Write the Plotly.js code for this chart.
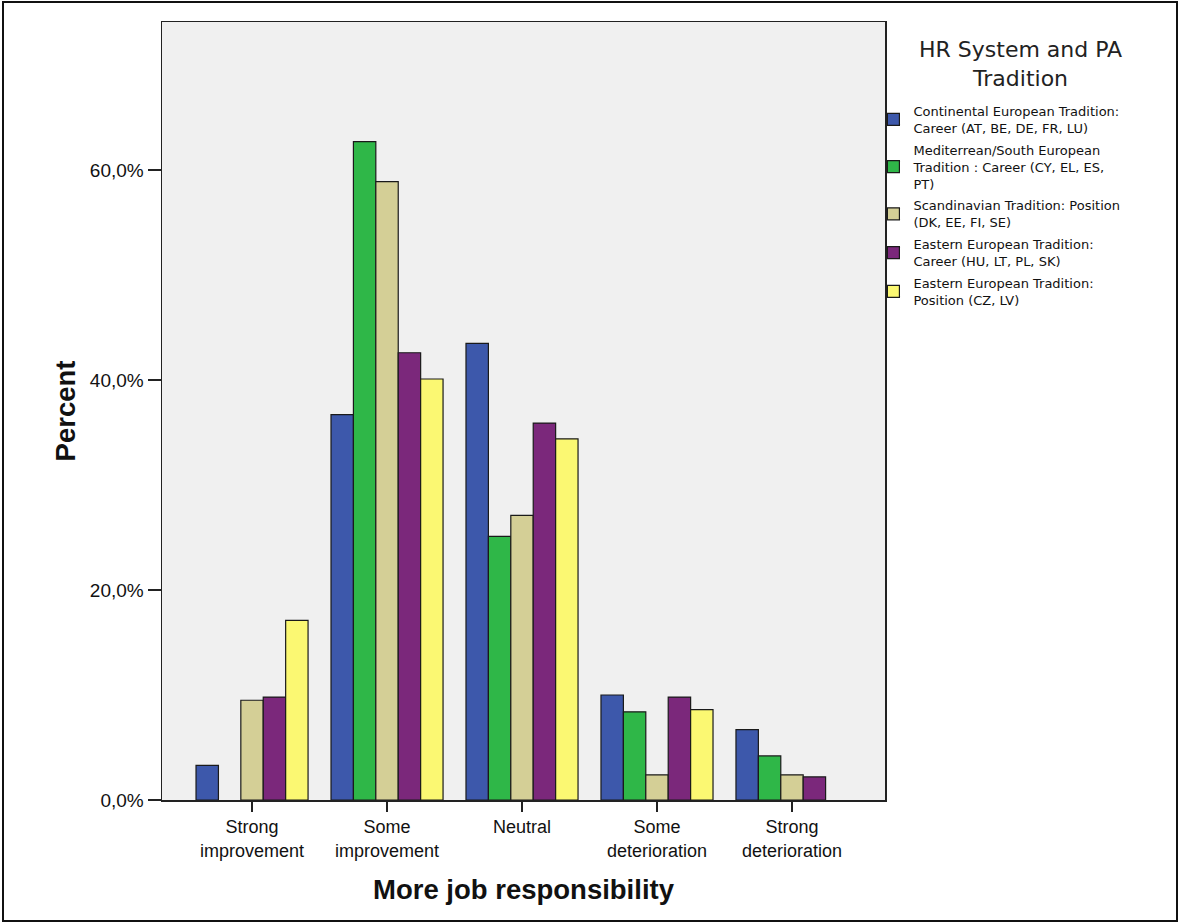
<!DOCTYPE html>
<html>
<head>
<meta charset="utf-8">
<script src="https://cdn.plot.ly/plotly-3.0.1.min.js"></script>
<style>
  html, body { margin: 0; padding: 0; background: #ffffff; }
  #wrap { position: relative; width: 1179px; height: 923px; }
  #chart { position: absolute; left: 0; top: 0; width: 1179px; height: 923px; }
  #frame { position: absolute; left: 2px; top: 1px; width: 1176px; height: 921px;
           border: 2px solid #111; box-sizing: border-box; pointer-events: none; }
</style>
</head>
<body>
<div id="wrap">
  <div id="chart"></div>
  <div id="frame"></div>
</div>
<script>
// Categories (x axis)
const categories = ["Strong<br>improvement", "Some<br>improvement", "Neutral", "Some<br>deterioration", "Strong<br>deterioration"];

// Legend title and series names
const legendTitle = "HR System and PA<br>Tradition";
const seriesNames = [
  "Continental European Tradition:<br>Career (AT, BE, DE, FR, LU)",
  "Mediterrean/South European<br>Tradition : Career (CY, EL, ES,<br>PT)",
  "Scandinavian Tradition: Position<br>(DK, EE, FI, SE)",
  "Eastern European Tradition:<br>Career (HU, LT, PL, SK)",
  "Eastern European Tradition:<br>Position (CZ, LV)"
];

// Series values (percent); null = no bar drawn
const continental   = [3.3, 36.7, 43.5, 10.0, 6.7];
const mediterranean = [null, 62.7, 25.1, 8.4, 4.2];
const scandinavian  = [9.5, 58.9, 27.1, 2.4, 2.4];
const easternCareer = [9.8, 42.6, 35.9, 9.8, 2.2];
const easternPos    = [17.1, 40.1, 34.4, 8.6, null];

// Tick labels
const yTickVals = [0, 20, 40, 60];
const yTickText = ["0,0%", "20,0%", "40,0%", "60,0%"];

const seriesValues = [continental, mediterranean, scandinavian, easternCareer, easternPos];
const seriesColors = ["#3d58ab", "#2fb748", "#d4cf96", "#7b287b", "#fbf872"];

const catIdx = categories.map((c, i) => i);

const traces = seriesValues.map((vals, i) => ({
  type: "bar",
  name: seriesNames[i],
  legendgroup: "g" + i,
  x: catIdx,
  y: vals,
  marker: { color: seriesColors[i], line: { color: "#1a1a1a", width: 1.2 } },
  hoverinfo: "y+name"
}));

const layout = {
  width: 1179,
  height: 923,
  margin: { l: 162, r: 294, t: 22, b: 123 },
  paper_bgcolor: "#ffffff",
  plot_bgcolor: "#f0f0f0",
  barmode: "group",
  bargap: 0.17,
  bargroupgap: 0,
  font: { family: "Liberation Sans, Arial, sans-serif", color: "#111" },
  showlegend: true,
  legend: {
    x: 0.984, xanchor: "left",
    y: 0.905, yanchor: "top",
    bgcolor: "rgba(0,0,0,0)",
    font: { size: 13, family: "DejaVu Sans, sans-serif", color: "#111" },
    traceorder: "grouped",
    tracegroupgap: 2
  },
  annotations: [{
    text: legendTitle,
    xref: "paper", yref: "paper",
    x: 1.1876, xanchor: "center",
    y: 1.0, yanchor: "top",
    yshift: -13,
    showarrow: false,
    align: "center",
    font: { size: 22, family: "DejaVu Sans, sans-serif", color: "#222" }
  }],
  xaxis: {
    range: [-0.667, 4.689],
    tickvals: catIdx,
    ticktext: categories,
    ticks: "outside",
    ticklen: 10,
    tickwidth: 1.5,
    tickcolor: "#222",
    showline: true,
    linecolor: "#222",
    linewidth: 1.5,
    mirror: true,
    showgrid: false,
    zeroline: false,
    tickfont: { size: 18, color: "#111" },
    title: { text: "More job responsibility", standoff: 20,
             font: { size: 27.5, family: "Liberation Sans, Arial, sans-serif", weight: "bold", color: "#111" } }
  },
  yaxis: {
    range: [0, 74.1],
    tickvals: yTickVals,
    ticktext: yTickText,
    ticks: "outside",
    ticklen: 13,
    tickwidth: 1.5,
    tickcolor: "#222",
    showline: true,
    linecolor: "#222",
    linewidth: 1.5,
    mirror: true,
    showgrid: false,
    zeroline: false,
    tickfont: { size: 19, color: "#111" },
    title: { text: "Percent", standoff: 6,
             font: { size: 27.5, family: "Liberation Sans, Arial, sans-serif", weight: "bold", color: "#111" } }
  }
};

Plotly.newPlot("chart", traces, layout, { displayModeBar: false, staticPlot: true });
</script>
</body>
</html>
